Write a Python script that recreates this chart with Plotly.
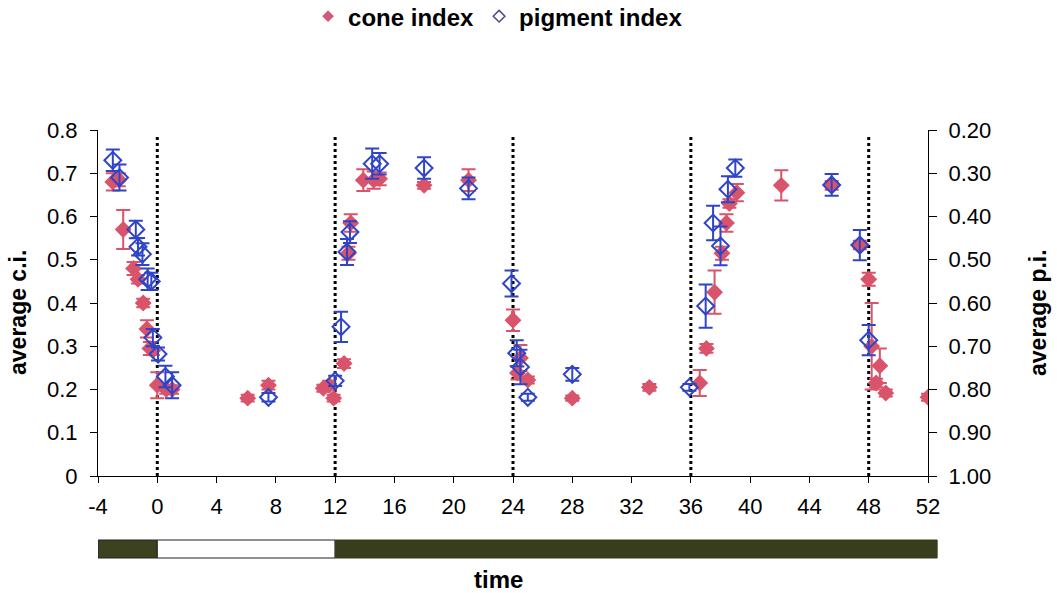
import plotly.graph_objects as go

# cone index (left axis)
ci_x = [-3.0, -2.6, -2.3, -1.6, -1.3, -0.95, -0.7, -0.5, -0.3, 0.0, 0.6, 1.0, 6.1, 7.5,
        11.2, 11.6, 11.9, 12.6, 12.9, 13.05, 13.9, 14.6, 15.0, 18.0, 21.0, 24.0, 24.3,
        24.5, 25.0, 28.0, 33.2, 36.6, 37.05, 37.6, 38.1, 38.4, 38.6, 39.1, 42.1, 45.5,
        47.4, 48.0, 48.2, 48.5, 48.75, 49.15, 52.0]
ci_y = [0.68, 0.685, 0.57, 0.48, 0.455, 0.40, 0.34, 0.295, 0.29, 0.21, 0.20, 0.20, 0.18, 0.21,
        0.203, 0.21, 0.18, 0.26, 0.515, 0.585, 0.684, 0.684, 0.687, 0.672, 0.684, 0.36, 0.238,
        0.273, 0.222, 0.18, 0.205, 0.215, 0.295, 0.425, 0.515, 0.585, 0.63, 0.655, 0.672, 0.672,
        0.534, 0.455, 0.30, 0.215, 0.255, 0.192, 0.182]
ci_err = [0.02, 0.015, 0.045, 0.015, 0.01, 0.01, 0.02, 0.015, 0.01, 0.03, 0.01, 0.01, 0.008, 0.01,
          0.008, 0.01, 0.008, 0.01, 0.015, 0.02, 0.025, 0.02, 0.015, 0.008, 0.025, 0.025, 0.015,
          0.03, 0.008, 0.006, 0.008, 0.03, 0.01, 0.05, 0.015, 0.02, 0.01, 0.02, 0.035, 0.01,
          0.01, 0.015, 0.1, 0.01, 0.04, 0.008, 0.008]

# pigment index (right axis, reversed)
pi_x = [-3.0, -2.55, -1.45, -1.3, -1.0, -0.65, -0.4, -0.3, 0.05, 0.55, 1.0, 7.5, 12.0, 12.4,
        12.8, 13.0, 14.5, 15.0, 18.0, 21.0, 23.9, 24.25, 24.5, 25.0, 28.0, 35.9, 37.0, 37.5,
        38.0, 38.5, 39.0, 45.5, 47.4, 48.0]
pi_y = [0.27, 0.31, 0.43, 0.47, 0.487, 0.545, 0.55, 0.68, 0.718, 0.77, 0.79, 0.818, 0.78, 0.655,
        0.482, 0.436, 0.278, 0.278, 0.288, 0.335, 0.555, 0.716, 0.748, 0.818, 0.765, 0.795, 0.607,
        0.415, 0.468, 0.337, 0.288, 0.327, 0.466, 0.686]
pi_err = [0.025, 0.03, 0.02, 0.02, 0.025, 0.025, 0.02, 0.02, 0.015, 0.025, 0.03, 0.01, 0.012, 0.035,
          0.03, 0.025, 0.035, 0.025, 0.025, 0.025, 0.03, 0.03, 0.04, 0.008, 0.015, 0.008, 0.05,
          0.04, 0.045, 0.03, 0.02, 0.025, 0.035, 0.035]

x_ticks = list(range(-4, 53, 4))
ci_ticks = [0, 0.1, 0.2, 0.3, 0.4, 0.5, 0.6, 0.7, 0.8]
pi_ticks = [0.2, 0.3, 0.4, 0.5, 0.6, 0.7, 0.8, 0.9, 1.0]
transitions = [0, 12, 24, 36, 48]

RED = "#d9536a"
BLUE = "#2f45c6"
FONT = "Liberation Sans, Arial"

fig = go.Figure()
fig.add_trace(go.Scatter(
    x=ci_x, y=ci_y, mode="markers", name="cone index", showlegend=False, legendgroup="ci",
    marker=dict(symbol="diamond", size=13, color=RED),
    error_y=dict(type="data", array=ci_err, color=RED, thickness=2, width=7),
))
fig.add_trace(go.Scatter(
    x=pi_x, y=pi_y, mode="markers", name="pigment index", yaxis="y2", showlegend=False,
    legendgroup="pi",
    marker=dict(symbol="diamond-open", size=13, color=BLUE, line=dict(width=2, color=BLUE)),
    error_y=dict(type="data", array=pi_err, color=BLUE, thickness=2, width=7),
))
# legend entries (small symbols as in the original legend)
fig.add_trace(go.Scatter(
    x=[None], y=[None], mode="markers", name="cone index", legendgroup="ci",
    marker=dict(symbol="diamond", size=9, color="#d05a78"),
))
fig.add_trace(go.Scatter(
    x=[None], y=[None], mode="markers", name="pigment index", legendgroup="pi",
    marker=dict(symbol="diamond-open", size=9, color="#4a4a90", line=dict(width=1.5, color="#4a4a90")),
))

shapes = []
for t in transitions:
    shapes.append(dict(type="line", xref="x", yref="y", x0=t, x1=t, y0=0, y1=0.785,
                       line=dict(color="black", width=3, dash="dot"), layer="below"))
# light/dark bar
shapes.append(dict(type="rect", xref="x", yref="paper", x0=-4, x1=0, y0=-0.237, y1=-0.185,
                   fillcolor="#3c4220", line=dict(color="#222", width=1)))
shapes.append(dict(type="rect", xref="x", yref="paper", x0=0, x1=12, y0=-0.237, y1=-0.185,
                   fillcolor="white", line=dict(color="#222", width=1)))
shapes.append(dict(type="rect", xref="paper", yref="paper", x0=(12 + 4) / 56, x1=1.011,
                   y0=-0.237, y1=-0.185,
                   fillcolor="#383d1e", line=dict(color="#383d1e", width=1)))

axis_font = dict(family=FONT, size=22, color="black")

fig.update_layout(
    width=1057, height=593,
    margin=dict(l=98, r=129, t=130, b=117, autoexpand=False),
    paper_bgcolor="white", plot_bgcolor="white",
    font=dict(family=FONT, color="black"),
    showlegend=True,
    legend=dict(orientation="h", x=0.482, y=0.972, xref="paper", yref="container",
                xanchor="center", yanchor="middle",
                font=dict(size=24, weight="bold", family=FONT), itemwidth=30,
                tracegroupgap=0, traceorder="normal"),
    xaxis=dict(range=[-4, 52], tickvals=x_ticks, ticktext=[str(v) for v in x_ticks],
               showgrid=False, zeroline=False, showline=True, linecolor="black", linewidth=1,
               ticks="outside", ticklen=6, tickcolor="black", tickfont=axis_font,
               ticklabelstandoff=5),
    yaxis=dict(range=[0, 0.8], tickvals=ci_ticks, ticktext=[f"{v:.1f}" if v else "0" for v in ci_ticks],
               showgrid=False, zeroline=False, showline=True, linecolor="black", linewidth=1,
               ticks="outside", ticklen=7, tickcolor="black", tickfont=axis_font,
               ticklabelstandoff=8),
    yaxis2=dict(range=[1.0, 0.2], overlaying="y", side="right", tickvals=pi_ticks,
                ticktext=[f"{v:.2f}" for v in pi_ticks],
                showgrid=False, zeroline=False, showline=True, linecolor="black", linewidth=1,
                ticks="outside", ticklen=8, tickcolor="black", tickfont=axis_font,
                ticklabelstandoff=7),
    shapes=shapes,
    annotations=[
        dict(text="<b>average c.i.</b>", xref="paper", yref="paper", x=-0.0964, y=0.474,
             textangle=-90, showarrow=False, font=dict(size=23), xanchor="center", yanchor="middle"),
        dict(text="<b>average p.i.</b>", xref="paper", yref="paper", x=1.1325, y=0.474,
             textangle=-90, showarrow=False, font=dict(size=23), xanchor="center", yanchor="middle"),
        dict(text="<b>time</b>", xref="paper", yref="paper", x=0.483, y=-0.30,
             showarrow=False, font=dict(size=24), xanchor="center", yanchor="middle"),
    ],
)

fig.write_html("out.html")
